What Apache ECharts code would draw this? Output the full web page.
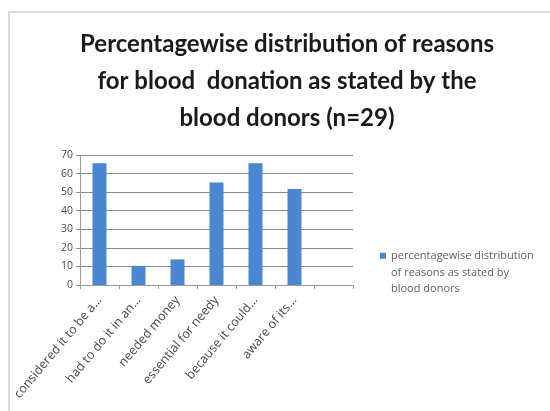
<!DOCTYPE html>
<html>
<head>
<meta charset="utf-8">
<script src="https://cdn.jsdelivr.net/npm/echarts@6/dist/echarts.min.js"></script>
<style>
  html, body { margin: 0; padding: 0; background: #fff; }
</style>
</head>
<body>
<div id="chart" style="width:550px;height:411px"></div>
<script>
// reasons (labels are cut short like in the original sheet)
var reasons = [
  "considered it to be a...",
  "had to do it in an...",
  "needed money",
  "essential for needy",
  "because it could...",
  "aware of its...",
  ""
];
// percent of donors, n=29
var percents = [65.5, 10.3, 13.8, 55.2, 65.5, 51.7, null];
var yTicks = [0, 10, 20, 30, 40, 50, 60, 70];
var seriesName = "percentagewise distribution\nof reasons as stated by\nblood donors";

var myChart = echarts.init(document.getElementById("chart"));
myChart.setOption({
  animation: false,
  backgroundColor: "#fff",
  graphic: [
    {
      // chart area frame, only top and left edges are in view
      type: "rect",
      shape: { x: 9, y: 12, width: 600, height: 450 },
      style: { fill: "none", stroke: "#cfcfcf", lineWidth: 1.5 },
      silent: true
    }
  ],
  title: {
    text: "Percentagewise distribution of reasons\nfor blood  donation as stated by the\nblood donors (n=29)",
    left: 282,
    top: 21,
    textAlign: "center",
    textStyle: {
      fontFamily: "Lato",
      fontWeight: "bold",
      fontSize: 24,
      lineHeight: 37,
      color: "#1a1a1a"
    }
  },
  legend: {
    left: 375,
    top: 243,
    orient: "vertical",
    itemWidth: 6,
    itemHeight: 40,
    itemGap: 4,
    textStyle: {
      fontFamily: "Open Sans",
      fontSize: 11,
      lineHeight: 16.5,
      color: "#5f5f5f"
    },
    // square drawn at the top of a tall icon box so it sits on the first line
    data: [{ name: seriesName, icon: "path://M0,0L6,0L6,6L0,6Z M0,40" }]
  },
  grid: {
    left: 80,
    top: 155,
    width: 273,
    height: 130,
    containLabel: false
  },
  xAxis: {
    type: "category",
    data: reasons,
    axisLine: { lineStyle: { color: "#9a9a9a" } },
    axisTick: { show: true, alignWithLabel: false, length: 4, lineStyle: { color: "#9a9a9a" } },
    axisLabel: {
      interval: 0,
      rotate: 50,
      margin: 13,
      fontFamily: "Open Sans",
      fontSize: 12.5,
      color: "#4a4a4a"
    }
  },
  yAxis: {
    type: "value",
    min: yTicks[0],
    max: yTicks[yTicks.length - 1],
    interval: 10,
    axisLine: { show: true, lineStyle: { color: "#9a9a9a" } },
    axisTick: { show: true, length: 4, lineStyle: { color: "#8a8a8a" } },
    splitLine: { lineStyle: { color: "#8a8a8a", width: 1 } },
    axisLabel: {
      fontFamily: "Open Sans",
      fontSize: 10.5,
      color: "#4a4a4a",
      margin: 7
    }
  },
  series: [
    {
      name: seriesName,
      type: "bar",
      data: percents,
      barWidth: 14,
      itemStyle: { color: "#4A87D0" }
    }
  ]
});
</script>
</body>
</html>
